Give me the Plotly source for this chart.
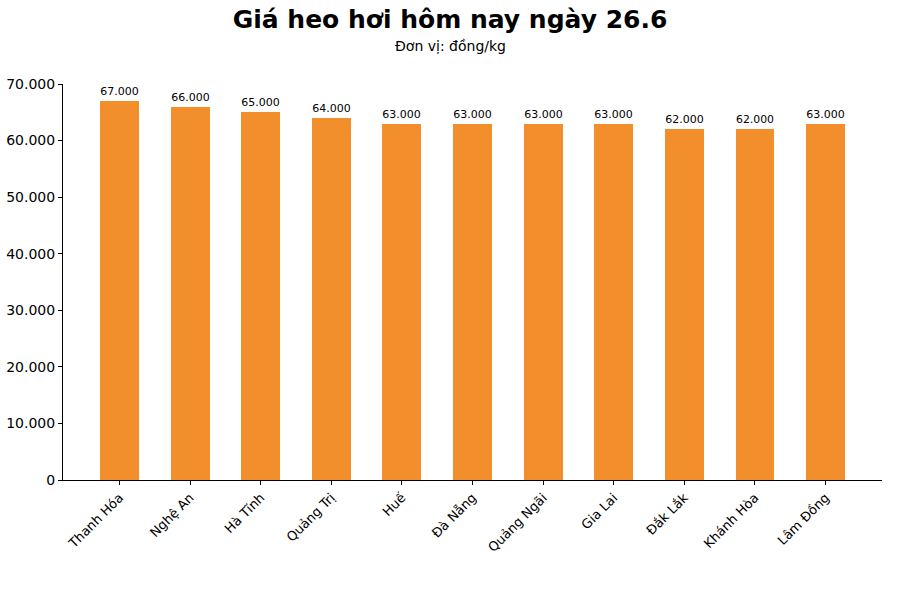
import plotly.graph_objects as go

provinces = ["Thanh Hóa", "Nghệ An", "Hà Tĩnh", "Quảng Trị", "Huế", "Đà Nẵng",
             "Quảng Ngãi", "Gia Lai", "Đắk Lắk", "Khánh Hòa", "Lâm Đồng"]
prices = [67000, 66000, 65000, 64000, 63000, 63000, 63000, 63000, 62000, 62000, 63000]
y_ticks = [0, 10000, 20000, 30000, 40000, 50000, 60000, 70000]

W, H = 900, 600
L, R, T, B = 63, 18, 84, 120
ph = H - T - B

fig = go.Figure(go.Bar(
    x=list(range(len(provinces))), y=prices, width=0.55,
    marker=dict(color="#F28E2B", line=dict(width=0)),
    texttemplate="%{y:,.0f}", textposition="outside",
    textfont=dict(size=11, color="black", family="DejaVu Sans"),
    cliponaxis=False,
))

fig.update_layout(
    width=W, height=H, margin=dict(l=L, r=R, t=T, b=B, autoexpand=False),
    plot_bgcolor="white", paper_bgcolor="white",
    separators=",.",
    font=dict(family="DejaVu Sans", color="black"),
    showlegend=False, bargap=0,
    title=dict(text="<b>Giá heo hơi hôm nay ngày 26.6</b>", x=0.5, xanchor="center",
               y=1 - 19 / H, yanchor="middle", yref="container",
               font=dict(size=25, family="DejaVu Sans", color="black")),
    annotations=[dict(text="Đơn vị: đồng/kg", xref="paper", yref="paper",
                      x=(450 - L) / (W - L - R), y=(H - B - 46) / ph,
                      xanchor="center", yanchor="middle", showarrow=False,
                      font=dict(size=14, family="DejaVu Sans", color="black"))],
    xaxis=dict(range=[-0.8, 10.8], tickmode="array", tickvals=list(range(len(provinces))),
               ticktext=provinces, tickangle=-45, showline=True, linecolor="black",
               linewidth=1, ticks="outside", ticklen=4, tickcolor="black",
               showgrid=False, zeroline=False, tickfont=dict(size=13), automargin=False),
    yaxis=dict(range=[0, 70000], tickmode="array", tickvals=y_ticks, tickformat=",.0f",
               showline=True, linecolor="black", linewidth=1, ticks="outside",
               ticklen=4, tickcolor="black", showgrid=False, zeroline=False,
               tickfont=dict(size=14), automargin=False),
)

fig.write_html("out.html")
